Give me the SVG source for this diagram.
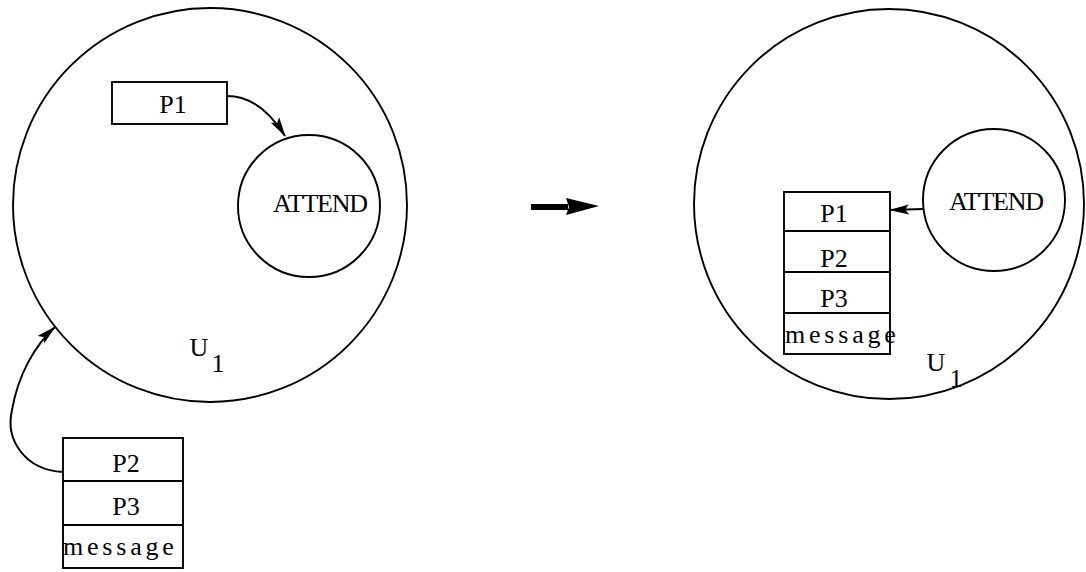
<svg xmlns="http://www.w3.org/2000/svg" width="1086" height="572" viewBox="0 0 1086 572">
<defs>
<marker id="ah" markerWidth="20" markerHeight="12" refX="19" refY="6" orient="auto" markerUnits="userSpaceOnUse">
<path d="M0,1 L20,6 L0,11 L4,6 Z" fill="#000"/>
</marker>
</defs>
<style>
.s{fill:none;stroke:#000;stroke-width:1.9}
.t{font-family:"Liberation Serif","DejaVu Serif",serif;font-size:26px;fill:#000;text-anchor:middle}
.a{letter-spacing:-1.2px}
.m{letter-spacing:3.8px;text-anchor:start}
.c{fill:none;stroke:#000;stroke-width:2}
</style>
<rect width="1086" height="572" fill="#fff"/>
<g id="left-u1">
<circle class="s" cx="210" cy="205" r="197"/>
<text class="t" x="199" y="356">U</text>
<text class="t" x="218" y="372">1</text>
</g>
<g id="left-attend">
<circle class="s" cx="309" cy="206" r="71"/>
<text class="t a" x="320" y="212">ATTEND</text>
</g>
<g id="left-p1">
<rect class="s" x="112" y="82" width="115" height="42"/>
<text class="t" x="173" y="113">P1</text>
</g>
<g id="left-stack">
<rect class="s" x="63" y="438" width="120" height="130"/>
<line class="s" x1="63" y1="481" x2="183" y2="481"/>
<line class="s" x1="63" y1="525" x2="183" y2="525"/>
<text class="t" x="126" y="472">P2</text>
<text class="t" x="126" y="515">P3</text>
<text class="t m" x="63" y="555">message</text>
</g>
<g id="right-u1">
<circle class="s" cx="889" cy="204" r="195"/>
<text class="t" x="936" y="371">U</text>
<text class="t" x="956" y="387">1</text>
</g>
<g id="right-attend">
<circle class="s" cx="994" cy="200" r="71"/>
<text class="t a" x="996" y="210">ATTEND</text>
</g>
<g id="right-stack">
<rect class="s" x="784" y="192" width="106" height="162"/>
<line class="s" x1="784" y1="231" x2="890" y2="231"/>
<line class="s" x1="784" y1="272" x2="890" y2="272"/>
<line class="s" x1="784" y1="313" x2="890" y2="313"/>
<text class="t" x="834" y="222">P1</text>
<text class="t" x="834" y="267">P2</text>
<text class="t" x="834" y="307">P3</text>
<text class="t m" x="785" y="343">message</text>
</g>
<g id="connectors">
<path class="c" d="M227,96 C252,96 270,112 285,136" marker-end="url(#ah)"/>
<path class="c" d="M63,472 C25,470 5,440 12,410 C18,375 35,345 55,327" marker-end="url(#ah)"/>
<path class="c" d="M923,209 L890,210" marker-end="url(#ah)"/>
<line x1="531" y1="207" x2="568" y2="207" stroke="#000" stroke-width="6"/>
<path d="M566,198 L599,206 L566,215 L569,207 Z" fill="#000"/>
</g>
</svg>
